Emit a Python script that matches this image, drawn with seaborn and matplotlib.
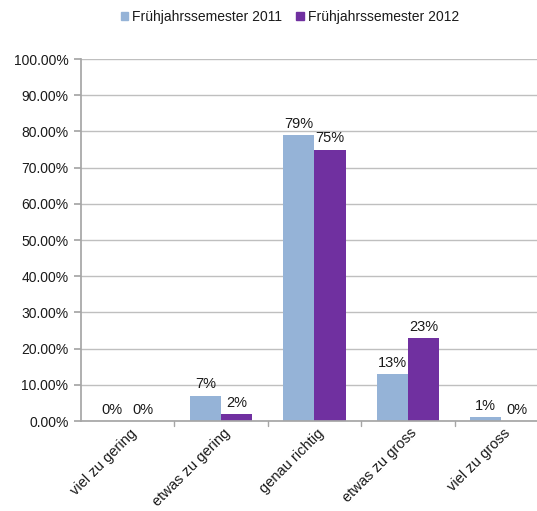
import matplotlib
matplotlib.use("Agg")
import matplotlib.pyplot as plt
import matplotlib.transforms as mtransforms
import seaborn as sns
import pandas as pd

categories = ["viel zu gering", "etwas zu gering", "genau richtig", "etwas zu gross", "viel zu gross"]
series_names = ["Frühjahrssemester 2011", "Frühjahrssemester 2012"]
values_2011 = [0, 7, 79, 13, 1]
values_2012 = [0, 2, 75, 23, 0]
y_ticks = [0, 10, 20, 30, 40, 50, 60, 70, 80, 90, 100]
colors = ["#95B3D7", "#7030A0"]

df = pd.DataFrame({
    "Kategorie": categories * 2,
    "Semester": [series_names[0]] * len(categories) + [series_names[1]] * len(categories),
    "Anteil": values_2011 + values_2012,
})

sns.set_theme(style="white")
plt.rcParams["font.family"] = ["Liberation Sans", "DejaVu Sans"]

W, H = 537, 511
fig = plt.figure(figsize=(W / 100, H / 100), dpi=100)
ax = fig.add_axes([81 / W, (H - 421) / H, (537 - 81) / W, (421 - 59) / H])

sns.barplot(data=df, x="Kategorie", y="Anteil", hue="Semester",
            palette=colors, width=0.67, saturation=1, linewidth=0,
            ax=ax, legend=False)

for cont in ax.containers:
    ax.bar_label(cont, fmt="%.0f%%", padding=3, fontsize=10.5, color="#1a1a1a")

ax.set_ylim(0, 100)
ax.set_xlim(-0.5, 4.5 - 11 / 93.5)
ax.set_yticks(y_ticks)
ax.set_yticklabels([f"{v:.2f}%" for v in y_ticks], fontsize=10, color="#1a1a1a")
ax.yaxis.grid(True, color="#BFBFBF", linewidth=1)
ax.set_axisbelow(True)
ax.set_xlabel("")
ax.set_ylabel("")

for s in ["top", "right"]:
    ax.spines[s].set_visible(False)
ax.spines["left"].set_color("#A6A6A6")
ax.spines["bottom"].set_color("#A6A6A6")

ax.tick_params(axis="y", left=True, length=5, color="#A6A6A6", pad=4)
ax.tick_params(axis="x", bottom=False, pad=2)
# category boundary ticks on the x axis
for b in [0.5, 1.5, 2.5, 3.5]:
    ax.plot([b, b], [0, -1.4], color="#A6A6A6", lw=1, clip_on=False)

ax.set_xticks(range(len(categories)))
ax.set_xticklabels(categories, rotation=45, ha="right", rotation_mode="anchor",
                   fontsize=10.5, color="#1a1a1a")
offset = mtransforms.ScaledTranslation(2 / 100, 6 / 100, fig.dpi_scale_trans)
for lbl in ax.get_xticklabels():
    lbl.set_transform(lbl.get_transform() + offset)

handles = [plt.Rectangle((0, 0), 1, 1, color=c) for c in colors]
fig.legend(handles, series_names, loc="center", bbox_to_anchor=(290 / W, 1 - 17 / H),
           ncol=2, frameon=False, fontsize=10, handlelength=0.55, handleheight=0.55,
           handletextpad=0.3, columnspacing=1.0, labelcolor="#1a1a1a")

fig.savefig("out.png", dpi=100)
